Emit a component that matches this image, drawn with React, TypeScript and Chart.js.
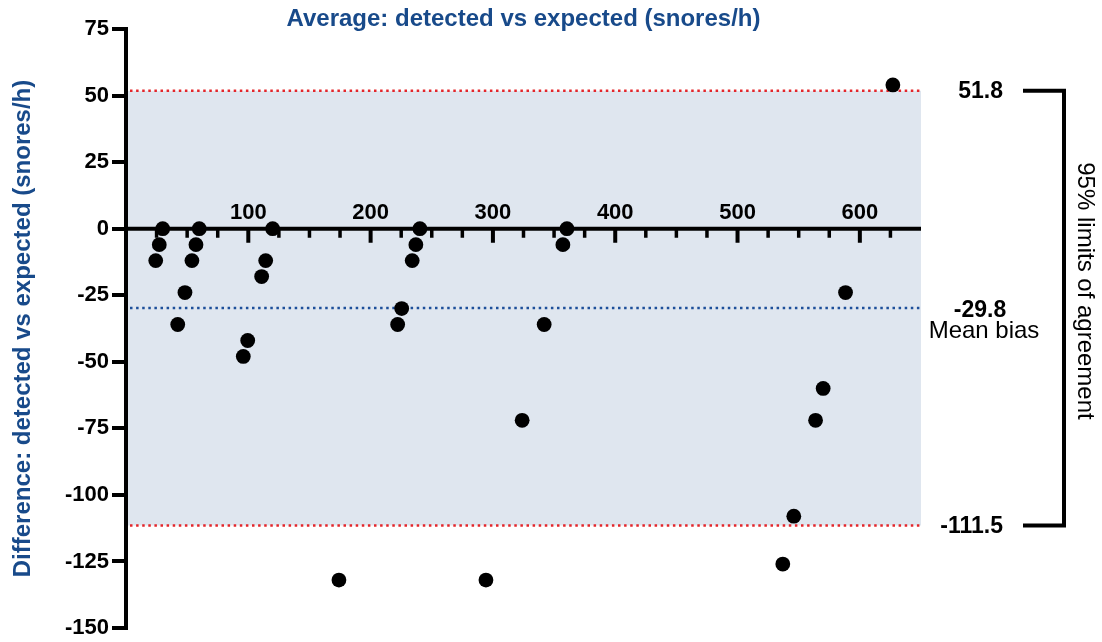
import { useEffect, useRef } from "react";
import { Chart, registerables } from "chart.js";

Chart.register(...registerables);

// ---- data ----
const averageX = [
  24.3, 27.2, 30.0, 42.3, 48.2, 53.9, 57.2, 59.9, 95.9, 99.5,
  110.9, 114.2, 119.9, 174.1, 222.1, 225.4, 234.0, 237.0, 240.3, 294.3,
  323.9, 341.9, 357.2, 360.5, 537.0, 546.0, 563.8, 570.0, 588.3, 627.0,
];
const differenceY = [
  -12, -6, 0, -36, -24, -12, -6, 0, -48, -42,
  -18, -12, 0, -132, -36, -30, -12, -6, 0, -132,
  -72, -36, -6, 0, -126, -108, -72, -60, -24, 54,
];
const xMajorTicks = [100, 200, 300, 400, 500, 600];
const xMinorTicks = [25, 50, 75, 125, 150, 175, 225, 250, 275, 325, 350, 375, 425, 450, 475, 525, 550, 575, 625];
const upperLoA = 51.8;
const meanBias = -29.8;
const lowerLoA = -111.5;
const titleText = "Average: detected vs expected (snores/h)";
const yTitleText = "Difference: detected vs expected (snores/h)";
const meanBiasLabel = "Mean bias";
const loaLabel = "95% limits of agreement";

const FONT = '"Liberation Sans", Arial, Helvetica, sans-serif';
const BLUE = "#184a8a";

const baPlugin = {
  id: "blandAltman",
  beforeDraw(chart: any) {
    const { ctx, chartArea: a, scales } = chart;
    const y = scales.y;
    const yt = y.getPixelForValue(upperLoA);
    const yb = y.getPixelForValue(lowerLoA);
    ctx.save();
    ctx.fillStyle = "#dfe6ef";
    ctx.fillRect(a.left, yt, a.right - a.left, yb - yt);
    ctx.restore();
  },
  beforeDatasetsDraw(chart: any) {
    const { ctx, chartArea: a, scales } = chart;
    const x = scales.x;
    const y = scales.y;
    ctx.save();
    const dotted = (val: number, color: string) => {
      const py = y.getPixelForValue(val);
      ctx.beginPath();
      ctx.setLineDash([2.5, 3.6]);
      ctx.lineWidth = 2.5;
      ctx.strokeStyle = color;
      ctx.moveTo(a.left + 4, py);
      ctx.lineTo(a.right, py);
      ctx.stroke();
    };
    dotted(upperLoA, "#e3262b");
    dotted(lowerLoA, "#e3262b");
    dotted(meanBias, "#1d4f9a");
    ctx.setLineDash([]);

    // x axis at y = 0
    const y0 = y.getPixelForValue(0);
    ctx.strokeStyle = "#000";
    ctx.lineWidth = 4;
    ctx.beginPath();
    ctx.moveTo(a.left, y0);
    ctx.lineTo(a.right, y0);
    ctx.stroke();
    ctx.beginPath();
    for (const v of xMajorTicks) {
      const px = x.getPixelForValue(v);
      ctx.moveTo(px, y0);
      ctx.lineTo(px, y0 + 14);
    }
    ctx.stroke();
    ctx.lineWidth = 3.5;
    ctx.beginPath();
    for (const v of xMinorTicks) {
      const px = x.getPixelForValue(v);
      ctx.moveTo(px, y0);
      ctx.lineTo(px, y0 + 9);
    }
    ctx.stroke();
    ctx.fillStyle = "#000";
    ctx.font = `bold 22px ${FONT}`;
    ctx.textAlign = "center";
    ctx.textBaseline = "alphabetic";
    for (const v of xMajorTicks) {
      const px = x.getPixelForValue(v);
      ctx.fillText(String(v), px, y0 - 10);
    }
    ctx.restore();
  },
  afterDraw(chart: any) {
    const { ctx, chartArea: a, scales } = chart;
    const y = scales.y;
    const yt = y.getPixelForValue(upperLoA);
    const yb = y.getPixelForValue(lowerLoA);
    const ym = y.getPixelForValue(meanBias);
    ctx.save();
    // title
    ctx.fillStyle = BLUE;
    ctx.font = `bold 24px ${FONT}`;
    ctx.textAlign = "center";
    ctx.textBaseline = "middle";
    ctx.fillText(titleText, (a.left + a.right) / 2, 19);

    // right labels
    ctx.fillStyle = "#000";
    ctx.font = `bold 23px ${FONT}`;
    ctx.textAlign = "right";
    ctx.fillText(upperLoA.toFixed(1), a.right + 82, yt + 1);
    ctx.fillText(lowerLoA.toFixed(1), a.right + 82, yb + 1);
    ctx.textAlign = "center";
    ctx.fillText(meanBias.toFixed(1), a.right + 59, ym + 3);
    ctx.font = `24px ${FONT}`;
    ctx.fillText(meanBiasLabel, a.right + 63, ym + 23);

    // bracket
    ctx.strokeStyle = "#000";
    ctx.lineWidth = 4;
    ctx.lineJoin = "miter";
    ctx.beginPath();
    ctx.moveTo(a.right + 102, yt);
    ctx.lineTo(a.right + 143, yt);
    ctx.lineTo(a.right + 143, yb);
    ctx.lineTo(a.right + 102, yb);
    ctx.stroke();

    // rotated label
    ctx.translate(a.right + 164, 291);
    ctx.rotate(Math.PI / 2);
    ctx.font = `24px ${FONT}`;
    ctx.textAlign = "center";
    ctx.textBaseline = "middle";
    ctx.fillText(loaLabel, 0, 0);
    ctx.restore();
  },
};

export default function App() {
  const ref = useRef<HTMLCanvasElement | null>(null);
  useEffect(() => {
    if (!ref.current) return;
    const chart = new Chart(ref.current, {
      type: "scatter",
      data: {
        datasets: [
          {
            data: averageX.map((v, i) => ({ x: v, y: differenceY[i] })),
            backgroundColor: "#000",
            borderColor: "#000",
            borderWidth: 0,
            pointRadius: 7.4,
            pointHoverRadius: 7.4,
            clip: false as any,
          },
        ],
      },
      options: {
        responsive: false,
        animation: false,
        events: [],
        layout: { padding: { top: 29, right: 181, bottom: 13, left: 0 } },
        plugins: {
          legend: { display: false },
          tooltip: { enabled: false },
          title: { display: false },
        },
        scales: {
          x: { type: "linear", min: 0, max: 650, display: false },
          y: {
            type: "linear",
            min: -150,
            max: 75,
            afterFit(scale: any) {
              scale.width = 126;
            },
            ticks: {
              stepSize: 25,
              color: "#000",
              padding: 3,
              font: { family: FONT, size: 22, weight: "bold", lineHeight: 1 },
            },
            grid: {
              display: true,
              drawOnChartArea: false,
              drawTicks: true,
              tickLength: 14,
              tickWidth: 4,
              tickColor: "#000",
              color: "#000",
              lineWidth: 4,
            },
            border: { display: true, width: 4, color: "#000" },
            title: {
              display: true,
              text: yTitleText,
              color: BLUE,
              font: { family: FONT, size: 24, weight: "bold", lineHeight: 1.2 },
              padding: { top: 8.5, bottom: 0 },
            },
          },
        },
      },
      plugins: [baPlugin],
    });
    return () => chart.destroy();
  }, []);
  return (
    <div style={{ position: "absolute", left: 0, top: 0, width: 1102, height: 642, background: "#fff" }}>
      <canvas ref={ref} width={1102} height={642} style={{ width: 1102, height: 642, display: "block" }} />
    </div>
  );
}
